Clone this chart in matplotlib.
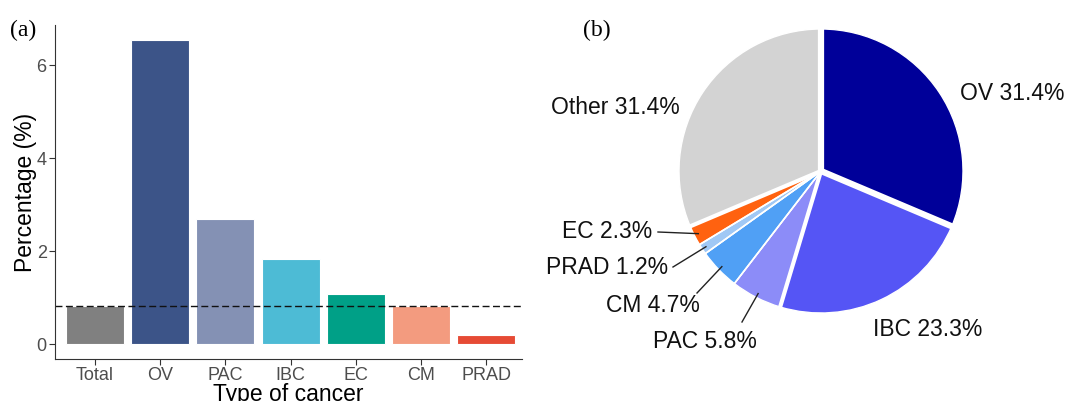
import numpy as np
import matplotlib.pyplot as plt

plt.rcParams['font.family'] = ['Liberation Sans', 'DejaVu Sans']

# bar chart data (a)
cancer_types = ['Total', 'OV', 'PAC', 'IBC', 'EC', 'CM', 'PRAD']
percentages = [0.82, 6.54, 2.68, 1.84, 1.07, 0.82, 0.19]
total_line = 0.82
bar_colors = ['#808080', '#3C5488', '#8491B4', '#4DBBD5', '#00A087', '#F39B7F', '#E64B35']

# pie chart data (b)
pie_labels = ['OV', 'IBC', 'PAC', 'CM', 'PRAD', 'EC', 'Other']
pie_values = [31.4, 23.3, 5.8, 4.7, 1.2, 2.3, 31.4]
pie_colors = ['#000099', '#5555F5', '#8C8CF8', '#50A0F5', '#A0C8F5', '#FF6210', '#D3D3D3']
# width (pt) of the white gap drawn after each wedge's end edge
gap_after = [4.5, 3.0, 1.2, 1.2, 1.2, 3.0, 4.5]

fig = plt.figure(figsize=(10.66, 4.01), dpi=100)

# ---- (a) bars
left, right, top, bottom = 55, 522, 25, 359
ax = fig.add_axes([left/1066, 1-bottom/401, (right-left)/1066, (bottom-top)/401])
x = np.arange(len(cancer_types))
ax.bar(x, percentages, width=0.89, color=bar_colors, edgecolor='white', linewidth=0.8)
ax.axhline(total_line, color='#111111', linestyle=(0, (5, 2.5)), linewidth=1)
ax.set_xlim(-0.613, 6.55)
ax.set_ylim(-0.32, 6.86)
ax.set_xticks(x)
ax.set_xticklabels(cancer_types)
ax.set_yticks([0, 2, 4, 6])
ax.tick_params(axis='both', labelsize=13, colors='#333333', labelcolor='#4D4D4D',
               length=4.5, pad=1.5)
for s in ['top', 'right']:
    ax.spines[s].set_visible(False)
for s in ['left', 'bottom']:
    ax.spines[s].set_color('#333333')
ax.set_xlabel('Type of cancer', fontsize=16.5, labelpad=-1)
ax.set_ylabel('Percentage (%)', fontsize=16.5)
ax.yaxis.set_label_coords(-0.0385, 0.5)
fig.text(10/1066, 1-30/401, '(a)', fontsize=17, family='Liberation Serif', va='center')

# ---- (b) pie
R = 142.0
cx, cy = 821.0, 171.0
px0, px1 = 560.0, 1066.0
bx = fig.add_axes([px0/1066, 0, (px1-px0)/1066, 1])
wedges, _ = bx.pie(pie_values, colors=pie_colors, startangle=90, counterclock=False,
                   wedgeprops=dict(edgecolor='white', linewidth=1.0))
bx.set_xlim((px0-cx)/R, (px1-cx)/R)
bx.set_ylim(-(401-cy)/R, cy/R)
bx.set_aspect('equal')
bx.axis('off')

# white separators along wedge boundaries
for w, g in zip(wedges, gap_after):
    a = np.deg2rad(w.theta1)
    bx.plot([0, 1.05*np.cos(a)], [0, 1.05*np.sin(a)], color='white', linewidth=g,
            solid_capstyle='butt', zorder=5)

# label positions (figure pixels)
label_pos = {
    'OV': (1012, 93),
    'IBC': (928, 330),
    'Other': (615, 107),
    'EC': (607, 232),
    'PRAD': (607, 268),
    'CM': (653, 305),
    'PAC': (705, 342),
}
line_start = {'EC': (658, 232), 'PRAD': (673, 267), 'CM': (697, 293), 'PAC': (742, 322)}


def to_data(px, py):
    return ((px - cx) / R, (cy - py) / R)


for w, lab, val in zip(wedges, pie_labels, pie_values):
    lx, ly = label_pos[lab]
    tx, ty = to_data(lx, ly)
    bx.text(tx, ty, f'{lab} {val}%', fontsize=16.5, ha='center', va='center', color='#111111')
    if lab in line_start:
        ang = np.deg2rad((w.theta1 + w.theta2) / 2)
        ex, ey = 0.97 * np.cos(ang), 0.97 * np.sin(ang)
        sx, sy = to_data(*line_start[lab])
        bx.plot([sx, ex], [sy, ey], color='#222222', linewidth=1, zorder=6)

fig.text(583/1066, 1-30/401, '(b)', fontsize=17, family='Liberation Serif', va='center')

fig.savefig('out.png', dpi=100)
